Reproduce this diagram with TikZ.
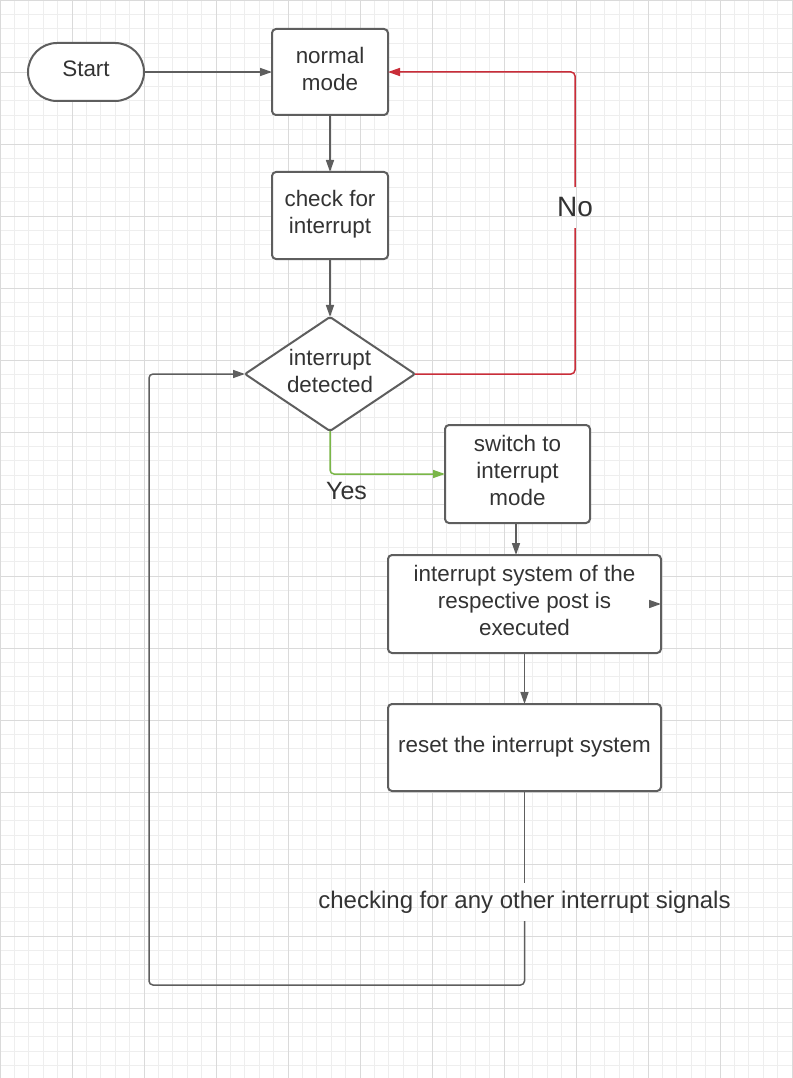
\documentclass[tikz,border=0pt]{standalone}
\usepackage{fontspec}
\setmainfont{Liberation Sans}
\usetikzlibrary{arrows.meta, shapes, positioning}
\definecolor{linegray}{HTML}{5E5E5E}
\definecolor{txtgray}{HTML}{333333}
\definecolor{noRed}{HTML}{C92D39}
\definecolor{yesGreen}{HTML}{7AB648}
\definecolor{gridminor}{HTML}{EEEEEE}
\definecolor{gridmajor}{HTML}{DADADA}

\begin{document}
\begin{tikzpicture}[x=1pt, y=-1pt,
    box/.style={rectangle, draw=linegray, line width=2pt, rounded corners=4pt, fill=white, text=txtgray, align=center, font=\fontsize{22.4}{27}\selectfont, text depth=7pt, inner sep=0pt, outer sep=0pt},
    term/.style={box, rounded corners=29pt, minimum width=116pt, minimum height=58pt},
    decision/.style={box, diamond, aspect=1.49, rounded corners=2pt, minimum width=170pt, minimum height=114pt},
    conn/.style={draw=linegray, line width=1.5pt, rounded corners=4pt},
    arr/.style={-{Triangle[length=12pt, width=8pt]}},
    lbl/.style={text=txtgray, inner sep=0pt}]
    \useasboundingbox (0,0) rectangle (792,1078);
    \fill[white] (0,0) rectangle (792,1078);
    \draw[gridminor, line width=0.8pt, step=14.4pt] (0.5,1078) grid (792,0.5);
    \draw[gridmajor, line width=1pt, step=72pt, shift={(0.5,0.5)}] (0,1078) grid (792,0);

    \node[term] (start) at (86,72) {Start};
    \node[box, right=128pt of start, minimum width=116pt, minimum height=86pt] (normal) {normal\\mode};
    \node[box, below=57pt of normal, minimum width=116pt, minimum height=87pt] (check) {check for\\interrupt};
    \node[decision, below=58pt of check] (dec) {interrupt\\detected};
    \node[box, minimum width=145pt, minimum height=98pt] (switch) at (517.5,474) {switch to\\interrupt\\mode};
    \node[box, minimum width=273pt, minimum height=98pt] (exec) at (524.5,604) {interrupt system of the\\respective post is\\executed};
    \node[box, below=51pt of exec, minimum width=273pt, minimum height=87pt] (reset) {reset the interrupt system};

    \node[lbl, font=\fontsize{28}{34}\selectfont, minimum height=41pt] (nolbl) at (575,207.5) {No};
    \node[lbl, font=\fontsize{25}{30}\selectfont] (yeslbl) at (346.5,491) {Yes};
    \node[lbl, font=\fontsize{24}{29}\selectfont, minimum height=38pt] (chklbl) at (524.5,902) {checking for any other interrupt signals};
    \coordinate (loopcorner) at (149,985);

    \draw[conn, arr] (start) -- (normal);
    \draw[conn, arr] (normal) -- (check);
    \draw[conn, arr] (check) -- (dec);
    \draw[conn, arr] ([xshift=-1.5pt]switch.south) -- ([xshift=-1.5pt]switch.south |- exec.north);
    \draw[conn, arr] (exec) -- (reset);
    \draw[conn, arr] ([xshift=-11pt]exec.east) -- (exec.east);

    \draw[conn, draw=noRed] (dec.east) -| (nolbl);
    \draw[conn, draw=noRed, arr] (nolbl) |- (normal.east);
    \draw[conn, draw=yesGreen, arr] (dec.south) |- (switch.west);
    \draw[conn] (reset) -- (chklbl);
    \draw[conn, arr] (chklbl) |- (loopcorner) |- (dec.west);
\end{tikzpicture}
\end{document}
